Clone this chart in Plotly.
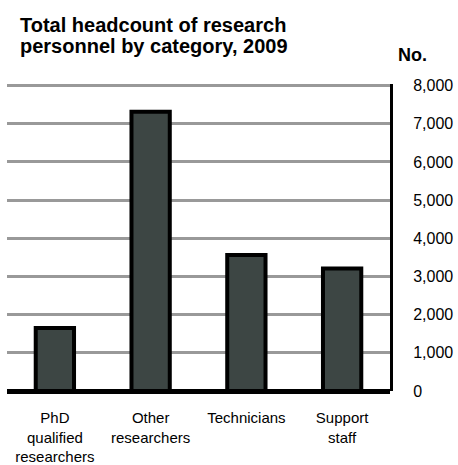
import plotly.graph_objects as go

categories = ["PhD<br>qualified<br>researchers", "Other<br>researchers", "Technicians", "Support<br>staff"]
values = [1650, 7310, 3560, 3210]
tick_vals = [0, 1000, 2000, 3000, 4000, 5000, 6000, 7000, 8000]
tick_text = ["0", "1,000", "2,000", "3,000", "4,000", "5,000", "6,000", "7,000", "8,000"]
title_lines = ["Total headcount of research", "personnel by category, 2009"]
unit_label = "No."

W, H = 458, 465
YMAX = 8040
L, R, T, B = 7, 68, 84, 73.5
pw = W - L - R
ph = H - T - B

FONT = "Arial, Liberation Sans, sans-serif"


def px_x(x):
    return (x - L) / pw


def px_y(y):
    return (H - B - y) / ph


fig = go.Figure()
fig.add_trace(go.Bar(
    x=categories, y=values,
    marker=dict(color="#3d4644", line=dict(color="#000000", width=4)),
    width=0.4,
))

annotations = []
for i, line in enumerate(title_lines):
    annotations.append(dict(
        text="<b>%s</b>" % line, showarrow=False,
        xref="paper", yref="paper",
        x=px_x(17.5), xanchor="left",
        y=px_y(24.5 + 21 * i), yanchor="middle",
        font=dict(family=FONT, size=20, color="#000000"),
    ))
annotations.append(dict(
    text="<b>%s</b>" % unit_label, showarrow=False,
    xref="paper", yref="paper",
    x=px_x(396), xanchor="left",
    y=px_y(55), yanchor="middle",
    font=dict(family=FONT, size=18, color="#000000"),
))

fig.update_layout(
    width=W, height=H,
    margin=dict(l=L, r=R, t=T, b=B, pad=0),
    paper_bgcolor="white", plot_bgcolor="white",
    showlegend=False,
    font=dict(family=FONT, color="#000000"),
    xaxis=dict(
        showgrid=False, showline=False, zeroline=False, automargin=False,
        ticks="", tickfont=dict(size=15, family=FONT, color="#000000"),
        ticklabelstandoff=16,
    ),
    yaxis=dict(
        side="right", range=[0, YMAX], automargin=False,
        tickvals=tick_vals, ticktext=tick_text,
        tickfont=dict(size=16, family=FONT, color="#000000"),
        showgrid=True, gridcolor="#999999", gridwidth=3,
        showline=True, linecolor="#000000", linewidth=3,
        zeroline=True, zerolinecolor="#000000", zerolinewidth=5,
        ticks="", ticklabelstandoff=17,
    ),
    annotations=annotations,
)

fig.write_html("out.html", config={"displayModeBar": False},
               post_script="document.body.style.margin='0';")
